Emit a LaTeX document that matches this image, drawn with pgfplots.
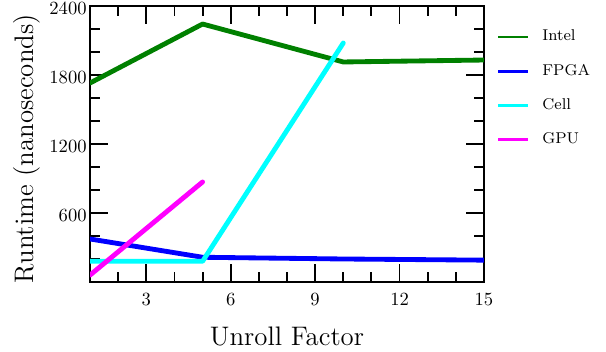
\documentclass[border=0pt]{standalone}
\usepackage{pgfplots}
\pgfplotsset{compat=1.18}
\definecolor{cIntel}{RGB}{0,128,0}
\definecolor{cFPGA}{RGB}{0,0,255}
\definecolor{cCell}{RGB}{0,255,255}
\definecolor{cGPU}{RGB}{255,0,255}
\begin{document}
\begin{tikzpicture}
\useasboundingbox (-48.4pt,-37.1pt) rectangle (277.4pt,151.6pt);
\begin{axis}[
  scale only axis, width=211.8pt, height=148.4pt,
  at={(0,0)}, anchor=south west,
  xmin=1, xmax=15, ymin=0, ymax=2400,
  xtick={3,6,9,12,15}, ytick={600,1200,1800,2400},
  minor xtick={2,4,5,7,8,10,11,13,14},
  minor ytick={200,400,800,1000,1400,1600,2000,2200},
  /pgf/number format/1000 sep={},
  major tick length=9.7pt, minor tick length=5.4pt,
  tick style={black, line width=1pt},
  axis line style={line width=1.4pt},
  xticklabel style={yshift=-2.7pt},
  yticklabel style={xshift=1.7pt, yshift=-1.6pt},
  xlabel={Unroll Factor},
  ylabel={Runtime (nanoseconds)},
  xlabel style={font=\Large, at={(axis description cs:0.5,0)}, anchor=base, yshift=-33.9pt},
  ylabel style={font=\Large, at={(axis description cs:-0.160,0.483)}, anchor=center},
  legend style={at={(axis description cs:1,1)}, anchor=north west, draw=none, fill=none,
    inner sep=0pt, outer sep=0pt, xshift=7pt, yshift=-13pt,
    font=\fontsize{8.4}{10}\selectfont, row sep=11pt, column sep=7pt,
    nodes={inner sep=0pt}},
  legend cell align=left,
  legend image code/.code={\draw[#1, line width=1.4pt, line cap=butt] (0pt,0pt) -- (16pt,0pt);},
  every axis plot/.append style={line width=2.6pt, line cap=round, line join=round},
]
\addplot[color=cIntel] coordinates {(1,1730) (5,2243) (10,1913) (15,1930)};
\addlegendentry{Intel}
\addplot[color=cFPGA] coordinates {(1,374) (5,215) (10,200) (15,190)};
\addlegendentry{FPGA}
\addplot[color=cCell] coordinates {(1,180) (5,180) (10,2078)};
\addlegendentry{Cell}
\addplot[color=cGPU] coordinates {(1,60) (5,870)};
\addlegendentry{GPU}
\end{axis}
\end{tikzpicture}
\end{document}
